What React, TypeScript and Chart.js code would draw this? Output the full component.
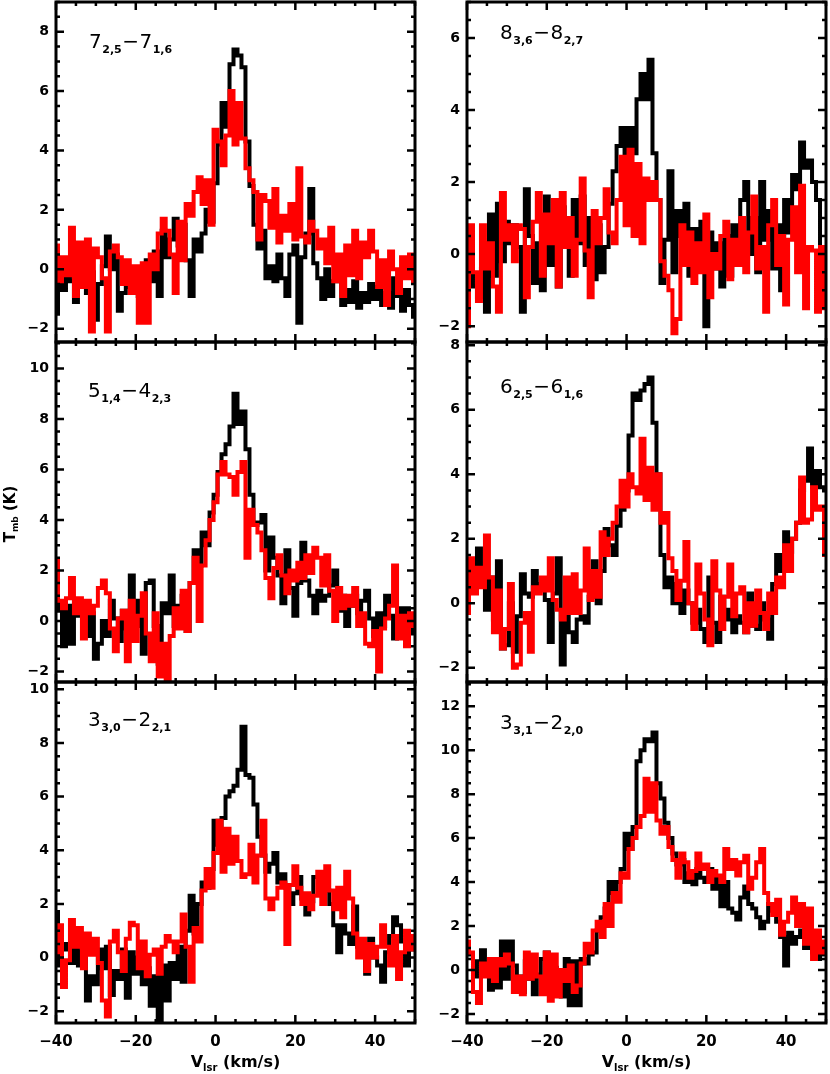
import React, { useEffect, useRef } from "react";
import { Chart, registerables } from "chart.js";

Chart.register(...registerables);

// ---------------- data ----------------
const velocity = [
  -40, -39, -38, -37, -36, -35, -34, -33, -32, -31,
  -30, -29, -28, -27, -26, -25, -24, -23, -22, -21,
  -20, -19, -18, -17, -16, -15, -14, -13, -12, -11,
  -10, -9, -8, -7, -6, -5, -4, -3, -2, -1,
  0, 1, 2, 3, 4, 5, 6, 7, 8, 9,
  10, 11, 12, 13, 14, 15, 16, 17, 18, 19,
  20, 21, 22, 23, 24, 25, 26, 27, 28, 29,
  30, 31, 32, 33, 34, 35, 36, 37, 38, 39,
  40, 41, 42, 43, 44, 45, 46, 47, 48, 49,
  50,
];

// 7(2,5)-7(1,6)
const p1Black = [
  -1.5, -0.5, -0.7, 0.3, -0.4, -1.1, -0.3, 0.4, -0.8, -0.1,
  -1.7, -0.5, 0.1, 1.1, 0.0, 0.5, -1.4, -0.8, -0.2, -0.6,
  0.0, -0.9, -0.3, 0.3, -0.4, 0.6, -0.9, 1.3, 0.4, 1.0,
  1.7, 0.8, 1.5, 0.3, -0.9, 1.0, 0.6, 1.2, 2.0, 1.6,
  2.9, 4.2, 5.6, 4.8, 6.9, 7.4, 7.2, 6.8, 4.3, 2.8,
  1.5, 0.7, 1.3, -0.3, 0.1, -0.4, 0.5, -0.3, -0.9, 0.5,
  0.8, -1.8, 0.4, 1.2, 2.7, 0.2, -0.3, -1.0, 0.0, -0.9,
  -0.4, 0.2, -1.2, -0.7, -1.1, -0.4, -1.3, -0.8, -1.1, -0.5,
  -1.0, -0.6, -1.2, -0.8, -1.3, -0.3, -0.9, -1.4, -0.7, -1.2,
  -1.6,
];
const p1Red = [
  0.8, -0.4, 0.4, -0.2, 1.4, -0.9, 0.9, -0.6, 1.0, -2.1,
  0.7, 0.4, -0.3, -2.1, 0.6, 0.8, 0.4, -0.5, 0.3, -0.8,
  0.1, -1.8, 0.2, -1.8, 0.5, 0.0, 1.2, 1.7, 1.3, 0.5,
  -0.8, 1.6, 0.3, 2.2, 1.8, 2.6, 3.1, 2.2, 3.0, 1.5,
  4.7, 4.3, 3.5, 4.5, 6.0, 4.2, 5.6, 4.4, 3.4, 3.0,
  2.6, 1.0, 2.5, 2.3, 1.4, 2.7, 0.9, 1.8, 1.3, 2.2,
  1.0, 3.4, 1.1, 0.9, 1.6, 1.3, 0.7, 1.0, 0.2, 1.4,
  -0.4, 0.5, -0.9, 0.8, -0.2, 1.3, -0.3, 0.9, 0.4, 1.3,
  0.6, -0.6, 0.3, -1.2, 0.6, 0.0, -0.8, 0.4, -0.3, 0.5,
  -0.4,
];

// 8(3,6)-8(2,7)
const p2Black = [
  -0.5, 0.6, -0.9, -1.2, -0.4, -1.6, 1.1, -0.6, 1.4, -0.2,
  0.9, 0.3, 0.8, 0.2, -1.6, 1.8, 0.5, -0.8, 0.3, -1.0,
  1.6, -0.3, 1.0, -0.9, 1.3, 0.2, -0.6, 1.5, 0.3, 1.6,
  -0.3, 1.0, -0.7, 0.8, -0.5, 0.2, 1.4, 2.3, 3.0, 3.5,
  2.4, 3.5, 2.8, 4.3, 5.0, 4.3, 5.4, 2.8, 1.5, -0.8,
  0.4, 2.3, -0.5, 1.2, 0.5, 1.4, -0.6, 0.7, -0.3, 0.9,
  -2.0, 0.6, -0.4, 0.3, -0.9, 0.5, -0.6, 0.8, -0.2, 1.5,
  2.0, 0.0, 1.0, -0.5, 2.0, 0.4, 1.2, -0.4, 0.8, -1.0,
  1.5, 0.6, 2.2, 1.8, 3.1, 2.4, 2.6, 2.0, 1.5, 0.0,
  -0.3,
];
const p2Red = [
  -2.0, 0.8, -0.5, -1.3, 0.8, -0.4, 0.3, -0.9, -1.6, 1.7,
  0.4, 0.8, -0.2, 0.8, 0.7, -1.2, 0.2, 0.9, 1.7, -0.6,
  1.1, 0.3, 1.5, -0.9, 1.7, 0.2, 1.0, -0.6, 0.4, 2.1,
  0.1, -1.2, 1.2, 0.3, 1.0, 1.8, 0.6, 0.3, 1.5, 2.7,
  0.8, 2.9, 0.5, 2.5, 0.3, 2.1, 1.5, 2.0, 1.5, -0.2,
  -0.6, -1.0, -2.2, -1.8, 0.8, -0.3, 0.6, -0.8, 0.3, -0.5,
  1.1, -1.2, 0.0, -0.4, 0.5, 0.9, -0.7, 0.4, -0.3, 1.0,
  -0.5, 0.6, 1.6, -0.4, 0.2, -1.6, 0.8, 1.5, -0.3, 0.5,
  -1.4, 0.4, 1.3, -0.5, 1.9, -1.5, 0.2, 0.1, -1.6, 0.2,
  -1.5,
];

// 5(1,4)-4(2,3)
const p3Black = [
  1.8, 0.4, -1.0, 0.6, -0.9, 0.8, 0.2, 0.5, -0.6, 0.3,
  -1.5, -0.9, 0.0, -0.6, 0.8, 0.1, -0.8, 0.4, -0.3, 1.8,
  -0.2, 0.8, -1.3, 1.5, 1.6, -0.2, -1.7, 0.7, 0.3, 1.8,
  -0.2, 0.6, 1.0, -0.4, 1.5, 2.8, 2.2, 3.5, 3.0, 4.3,
  5.0, 5.9, 6.6, 7.0, 7.7, 9.0, 7.8, 8.3, 6.8, 5.0,
  3.8, 3.9, 4.2, 2.0, 3.3, 2.5, 1.8, 0.7, 2.8, 1.3,
  0.2, 1.5, 3.1, 1.6, 1.0, 0.3, 1.2, 0.8, 1.0, 1.4,
  2.0, 0.4, 1.0, -0.2, 0.6, 1.0, 0.3, 0.8, 1.2, 0.1,
  -0.6, 0.3, -0.2, 1.0, 0.2, -0.7, 0.5, -0.4, 0.5, -0.5,
  0.2,
];
const p3Red = [
  2.4, 0.8, 0.5, 0.9, 1.7, 0.3, 0.9, -0.7, 0.8, 0.3,
  0.6, 1.3, 1.6, 1.1, -0.3, -1.2, 0.1, 0.4, -1.6, 0.8,
  -0.8, 0.2, 1.1, -0.5, -1.6, 0.3, -2.2, -0.9, -2.5, -0.6,
  0.5, -0.3, 1.2, -0.4, 1.5, 2.5, 0.0, 2.2, 3.2, 4.0,
  4.7, 5.8, 6.3, 5.8, 5.7, 5.0, 5.9, 6.3, 2.5, 4.4,
  3.8, 3.5, 2.8, 1.7, 0.9, 2.1, 2.6, 1.8, 1.1, 2.0,
  1.6, 2.3, 1.7, 2.6, 1.9, 2.9, 2.5, 1.4, 2.6, 1.2,
  0.0, 1.3, 0.5, 1.0, 0.6, 1.3, -0.2, 0.3, -0.9, -1.0,
  -0.4, -2.0, -0.3, 0.1, 0.6, 2.2, -0.7, 0.2, -1.0, 0.3,
  -0.2,
];

// 6(2,5)-6(1,6)
const p4Black = [
  -0.2, 0.5, 0.9, 1.7, 1.0, -0.2, 0.8, -0.5, 1.3, -1.4,
  -1.3, 0.0, -1.5, -0.4, 0.9, 0.3, 0.2, 1.0, 0.5, 0.6,
  0.1, -1.2, 0.3, 1.4, -1.9, -0.4, -0.9, -1.2, -0.5, -0.4,
  -0.6, 0.2, 1.3, 0.0, 1.0, 2.3, 1.8, 1.5, 2.4, 2.9,
  3.5, 5.2, 6.5, 6.3, 6.6, 6.8, 7.0, 5.6, 4.0, 1.5,
  0.5, 0.8, 0.0, 0.6, -0.3, 0.4, 0.0, -0.6, -0.2, -0.8,
  -1.2, 0.8, -0.6, -1.2, 0.2, -0.5, -0.2, -0.9, -0.4, -0.6,
  -0.9, 0.3, -0.7, -0.8, 0.0, -0.5, -1.1, 0.6, 1.5, 1.0,
  2.2, 1.6, 2.0, 2.5, 3.5, 3.8, 4.8, 3.6, 4.1, 3.6,
  3.5,
];
const p4Red = [
  -0.3, 1.4, 0.3, 1.1, 0.5, 2.1, 0.8, -0.9, 0.4, -1.4,
  -0.8, 0.6, -2.0, -1.9, -0.6, -0.3, -1.5, 0.5, 0.3, 0.8,
  0.4, 1.4, 0.1, -0.2, -0.5, 0.8, -0.3, 0.9, -0.3, 0.4,
  1.7, 0.1, 1.0, 0.2, 2.2, 1.5, 2.0, 2.5, 3.0, 3.8,
  3.0, 4.0, 3.6, 3.4, 5.1, 3.2, 4.2, 2.9, 4.0, 2.5,
  2.8, 1.4, 1.0, 0.1, 0.7, 1.9, 0.0, -0.8, 1.2, 0.3,
  -0.5, -1.3, 1.3, 0.4, -0.8, 0.2, 1.2, -0.4, 0.3, 0.5,
  -0.9, 0.0, -0.7, 0.4, -0.3, -0.8, 0.3, -0.3, 0.8, 0.5,
  1.8, 1.0, 2.0, 2.5, 3.9, 2.5, 2.6, 3.6, 2.9, 3.0,
  1.5,
];

// 3(3,0)-2(2,1)
const p5Black = [
  1.7, -0.3, 0.3, 0.5, -0.2, 0.5, -0.3, 0.2, -1.6, -0.7,
  -1.0, 0.3, -0.4, 0.4, -1.4, -0.5, -0.8, 0.3, -1.5, 0.2,
  -0.6, 0.0, -1.0, -0.4, -1.8, -0.7, -2.5, -0.3, -1.6, -0.2,
  -0.8, 0.4, -0.9, 1.0, 2.3, 0.9, 2.0, 2.8, 2.6, 3.3,
  5.1, 4.2, 5.2, 6.0, 6.2, 6.4, 7.0, 8.6, 6.8, 6.7,
  5.7, 4.5, 3.8, 3.2, 3.5, 3.9, 2.8, 3.1, 2.6, 2.0,
  2.4, 3.0, 2.2, 1.6, 2.1, 3.0, 3.0, 2.6, 2.5, 2.0,
  1.2, 0.2, 1.2, 0.9, 0.5, 1.9, 0.4, 0.2, -0.6, 0.7,
  0.0, -0.3, -0.9, 0.2, 0.8, 1.5, 1.2, 0.6, -0.3, 0.5,
  0.3,
];
const p5Red = [
  0.2, 1.2, -1.1, -0.1, 1.4, 0.4, 1.1, -0.4, 0.9, 0.1,
  0.7, -0.2, -1.6, -2.2, 0.6, 1.0, 0.2, -0.5, 0.7, 1.3,
  1.2, -0.4, 0.6, -0.7, 0.1, 0.3, -0.6, 0.4, 0.8, 0.6,
  0.2, 0.6, 1.6, 0.4, -0.9, 1.1, 0.6, 2.5, 3.3, 2.6,
  3.9, 5.1, 3.2, 4.8, 3.5, 4.5, 3.6, 3.0, 3.1, 4.2,
  2.8, 3.8, 5.1, 2.2, 1.8, 2.2, 2.6, 2.8, 0.5, 2.7,
  3.4, 2.6, 2.0, 2.4, 1.8, 2.3, 3.2, 2.0, 3.4, 2.5,
  1.8, 2.6, 1.5, 3.2, 2.2, 0.9, 0.0, 0.7, -0.5, 0.5,
  0.0, 0.4, 1.2, 0.4, -0.3, 0.8, -0.8, 0.2, 1.0, 0.3,
  0.8,
];

// 3(3,1)-2(2,0)
const p6Black = [
  1.2, 0.7, -0.3, 0.4, 0.9, -0.2, -0.9, 0.3, -0.8, 1.3,
  -0.4, 1.3, 0.2, -0.3, -1.0, 0.4, -0.4, -1.1, -0.2, 0.5,
  0.8, -0.4, 0.1, -0.6, -1.2, 0.5, -1.6, 0.4, -1.6, 0.5,
  0.3, 0.7, 0.8, 1.8, 2.4, 2.8, 4.0, 3.5, 4.0, 4.6,
  6.2, 5.5, 6.5, 9.5, 10.0, 10.5, 10.4, 10.8, 8.5, 7.8,
  6.7, 6.0, 5.3, 4.8, 5.0, 4.0, 4.4, 3.9, 4.6, 4.2,
  4.0, 4.6, 3.7, 4.2, 2.9, 4.0, 2.8, 2.6, 2.3, 3.3,
  3.8, 3.0, 2.8, 2.4, 1.9, 2.2, 3.0, 2.7, 2.2, 1.5,
  0.2, 1.7, 1.2, 1.5, 1.8, 1.0, 1.4, 0.8, 0.5, 1.0,
  0.7,
];
const p6Red = [
  1.3, 0.8, -1.0, -1.5, 0.3, -0.3, 0.5, -0.5, 0.5, 0.2,
  0.7, 0.3, -1.0, -0.3, -1.1, 0.8, -0.4, 0.7, -0.3, -1.1,
  0.8, -1.4, 0.7, -1.2, 0.0, -0.5, 0.2, -1.0, -0.7, 0.3,
  1.2, 0.8, 1.8, 2.2, 1.5, 3.0, 2.0, 3.5, 3.1, 4.4,
  4.2, 5.5, 6.0, 6.5, 7.0, 8.7, 7.2, 8.5, 6.8, 6.2,
  6.5, 5.6, 5.0, 4.2, 5.3, 4.9, 4.2, 4.5, 5.3, 4.6,
  4.8, 4.0, 4.5, 4.3, 4.0, 5.5, 4.6, 5.0, 4.3, 4.9,
  5.2, 3.7, 4.2, 4.9, 5.5, 3.5, 3.0, 2.5, 3.2, 1.6,
  2.2, 2.6, 3.3, 2.0, 3.0, 1.2, 2.8, 0.5, 1.8, 0.8,
  1.3,
];

const blackSeries = [p1Black, p2Black, p3Black, p4Black, p5Black, p6Black];
const redSeries = [p1Red, p2Red, p3Red, p4Red, p5Red, p6Red];

// transitions: [upper, upper sub, lower, lower sub]
const transitions = [
  ["7", "2,5", "7", "1,6"],
  ["8", "3,6", "8", "2,7"],
  ["5", "1,4", "4", "2,3"],
  ["6", "2,5", "6", "1,6"],
  ["3", "3,0", "2", "2,1"],
  ["3", "3,1", "2", "2,0"],
];

const yMinValues = [-2.45, -2.44, -2.42, -2.44, -2.44, -2.41];
const yMaxValues = [9.0, 7.0, 11.05, 8.1, 10.27, 13.1];
const yTickValues = [
  [-2, 0, 2, 4, 6, 8],
  [-2, 0, 2, 4, 6],
  [-2, 0, 2, 4, 6, 8, 10],
  [-2, 0, 2, 4, 6, 8],
  [-2, 0, 2, 4, 6, 8, 10],
  [-2, 0, 2, 4, 6, 8, 10, 12],
];
const xTickValues = [-40, -20, 0, 20, 40];
const X_MIN = -40;
const X_MAX = 50;

// ---------------- layout / style ----------------
const PAGE_W = 830;
const PAGE_H = 1074;
const COL_AREA = [
  [56, 415],
  [467, 826],
];
const COL_CANVAS = [
  [0, 420],
  [420, 410],
];
const ROW_AREA = [
  [2, 342],
  [342, 682],
  [682, 1023],
];
const LABEL_OFFSETS = [
  [33, 46],
  [33, 37],
  [32, 55],
  [33, 51],
  [32, 44],
  [33, 47],
];
const FONT = '"DejaVu Sans", "Liberation Sans", sans-serif';
const X_MINOR = 5;
const X_MAJOR = 20;
const Y_MINOR = 0.5;
const Y_MAJOR = 2;
const LINE_W = 4;

const fmt = (v: number) => (v < 0 ? "\u2212" + Math.abs(v) : String(v));

function drawTransition(ctx: CanvasRenderingContext2D, x: number, y: number, parts: string[]) {
  const main = `20px ${FONT}`;
  const sub = `bold 11px ${FONT}`;
  ctx.fillStyle = "#000";
  ctx.textAlign = "left";
  ctx.textBaseline = "alphabetic";
  let cx = x;
  ctx.font = main;
  ctx.fillText(parts[0], cx, y);
  cx += ctx.measureText(parts[0]).width + 0.5;
  ctx.font = sub;
  ctx.fillText(parts[1], cx, y + 5);
  cx += ctx.measureText(parts[1]).width + 0.5;
  ctx.font = main;
  ctx.fillText("\u2212", cx, y);
  cx += ctx.measureText("\u2212").width + 0.5;
  ctx.fillText(parts[2], cx, y);
  cx += ctx.measureText(parts[2]).width + 0.5;
  ctx.font = sub;
  ctx.fillText(parts[3], cx, y + 5);
}

function Panel({ idx }: { idx: number }) {
  const ref = useRef<HTMLCanvasElement | null>(null);
  const col = idx % 2;
  const row = Math.floor(idx / 2);
  const [aL, aR] = COL_AREA[col];
  const [aT, aB] = ROW_AREA[row];
  const [cL, cW] = COL_CANVAS[col];
  const cT = aT - 20;
  const cB = row === 2 ? PAGE_H : aB + 20;
  const cH = cB - cT;

  useEffect(() => {
    if (!ref.current) return;
    const black = blackSeries[idx];
    const red = redSeries[idx];

    const framePlugin = {
      id: "frame" + idx,
      afterDatasetsDraw(chart: any) {
        const { ctx, chartArea: a } = chart;
        const xs = chart.scales.x;
        const ys = chart.scales.y;
        ctx.save();
        ctx.strokeStyle = "#000";
        ctx.lineWidth = 2.5;
        ctx.beginPath();
        for (let v = X_MIN; v <= X_MAX + 1e-9; v += X_MINOR) {
          const px = xs.getPixelForValue(v);
          const major = Math.abs(v % X_MAJOR) < 1e-9;
          const len = major ? 8 : 4;
          ctx.moveTo(px, a.top);
          ctx.lineTo(px, a.top + len);
          ctx.moveTo(px, a.bottom);
          ctx.lineTo(px, a.bottom - len);
        }
        const start = Math.ceil(ys.min / Y_MINOR) * Y_MINOR;
        for (let v = start; v <= ys.max + 1e-9; v += Y_MINOR) {
          const py = ys.getPixelForValue(v);
          const major = Math.abs(Math.round(v / Y_MAJOR) * Y_MAJOR - v) < 1e-6;
          const len = major ? 8 : 4;
          ctx.moveTo(a.left, py);
          ctx.lineTo(a.left + len, py);
          ctx.moveTo(a.right, py);
          ctx.lineTo(a.right - len, py);
        }
        ctx.stroke();
        ctx.lineWidth = 3;
        ctx.strokeRect(a.left, a.top, a.right - a.left, a.bottom - a.top);
        ctx.restore();
      },
      afterDraw(chart: any) {
        const { ctx, chartArea: a } = chart;
        ctx.save();
        const [dx, dy] = LABEL_OFFSETS[idx];
        drawTransition(ctx, a.left + dx, a.top + dy, transitions[idx]);

        // x-axis title on bottom row
        if (row === 2) {
          const big = `bold 16px ${FONT}`;
          const small = `bold 10px ${FONT}`;
          ctx.font = big;
          const w1 = ctx.measureText("V").width;
          const w3 = ctx.measureText(" (km/s)").width;
          ctx.font = small;
          const w2 = ctx.measureText("lsr").width;
          const total = w1 + w2 + w3;
          let x = (a.left + a.right) / 2 - total / 2;
          const y = a.bottom + 44;
          ctx.fillStyle = "#000";
          ctx.textAlign = "left";
          ctx.textBaseline = "alphabetic";
          ctx.font = big;
          ctx.fillText("V", x, y);
          x += w1;
          ctx.font = small;
          ctx.fillText("lsr", x, y + 4);
          x += w2;
          ctx.font = big;
          ctx.fillText(" (km/s)", x, y);
        }

        // y-axis title on middle-left panel
        if (idx === 2) {
          const big = `bold 15px ${FONT}`;
          const small = `bold 9px ${FONT}`;
          ctx.font = big;
          const w1 = ctx.measureText("T").width;
          const w3 = ctx.measureText(" (K)").width;
          ctx.font = small;
          const w2 = ctx.measureText("mb").width;
          const total = w1 + w2 + w3;
          ctx.translate(15, 514 - cT);
          ctx.rotate(-Math.PI / 2);
          ctx.fillStyle = "#000";
          ctx.textAlign = "left";
          ctx.textBaseline = "alphabetic";
          let x = -total / 2;
          ctx.font = big;
          ctx.fillText("T", x, 0);
          x += w1;
          ctx.font = small;
          ctx.fillText("mb", x, 3);
          x += w2;
          ctx.font = big;
          ctx.fillText(" (K)", x, 0);
        }
        ctx.restore();
      },
    };

    const chart = new Chart(ref.current, {
      type: "line",
      data: {
        datasets: [
          {
            label: "red",
            data: velocity.map((v, i) => ({ x: v, y: red[i] })),
            borderColor: "#ff0000",
            backgroundColor: "#ff0000",
            borderWidth: LINE_W,
            stepped: "middle",
            pointRadius: 0,
            fill: false,
          },
          {
            label: "black",
            data: velocity.map((v, i) => ({ x: v, y: black[i] })),
            borderColor: "#000000",
            backgroundColor: "#000000",
            borderWidth: LINE_W,
            stepped: "middle",
            pointRadius: 0,
            fill: false,
          },
        ],
      },
      options: {
        responsive: false,
        animation: false,
        devicePixelRatio: 1,
        events: [],
        layout: {
          padding: { left: 0, right: cW - (aR - cL), top: 20, bottom: 0 },
        },
        plugins: {
          legend: { display: false },
          tooltip: { enabled: false },
        },
        scales: {
          x: {
            type: "linear",
            min: X_MIN,
            max: X_MAX,
            grid: { display: false, drawTicks: false },
            border: { display: false },
            afterBuildTicks: (s: any) => {
              s.ticks = xTickValues.map((v) => ({ value: v }));
            },
            afterFit: (s: any) => {
              s.height = cB - aB;
            },
            ticks: {
              display: row === 2,
              autoSkip: false,
              maxRotation: 0,
              minRotation: 0,
              padding: 10,
              color: "#000",
              font: { family: FONT, size: 15, weight: "bold" },
              callback: (v: any) => fmt(Number(v)),
            },
          },
          y: {
            type: "linear",
            min: yMinValues[idx],
            max: yMaxValues[idx],
            grid: { display: false, drawTicks: false },
            border: { display: false },
            afterBuildTicks: (s: any) => {
              s.ticks = yTickValues[idx].map((v) => ({ value: v }));
            },
            afterFit: (s: any) => {
              s.width = aL - cL;
            },
            ticks: {
              autoSkip: false,
              padding: 7,
              color: "#000",
              font: { family: FONT, size: 14, weight: "bold" },
              callback: (v: any) => fmt(Number(v)),
            },
          },
        },
      } as any,
      plugins: [framePlugin],
    });
    return () => chart.destroy();
  }, [idx]);

  return (
    <canvas
      ref={ref}
      width={cW}
      height={cH}
      style={{ position: "absolute", left: cL, top: cT, width: cW, height: cH }}
    />
  );
}

export default function App() {
  return (
    <div
      style={{
        position: "absolute",
        left: 0,
        top: 0,
        width: PAGE_W,
        height: PAGE_H,
        overflow: "hidden",
        background: "#ffffff",
      }}
    >
      {[0, 1, 2, 3, 4, 5].map((i) => (
        <Panel key={i} idx={i} />
      ))}
    </div>
  );
}
